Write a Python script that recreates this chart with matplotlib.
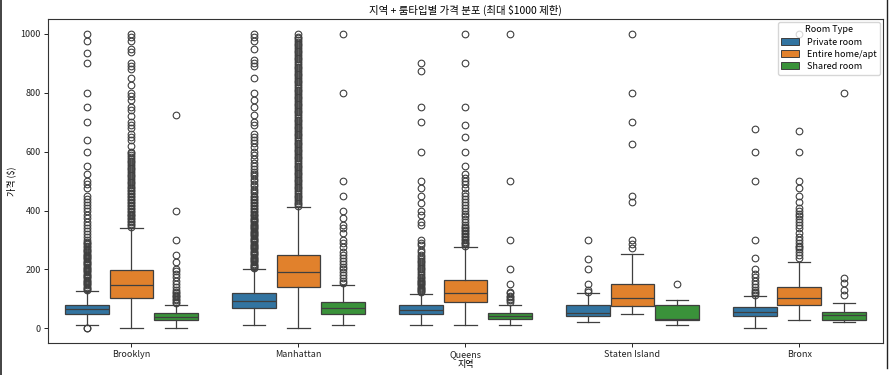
import matplotlib
matplotlib.use("Agg")
import matplotlib.pyplot as plt
from matplotlib.patches import Patch
from matplotlib.lines import Line2D

plt.rcParams['font.family'] = ['Noto Sans CJK KR', 'DejaVu Sans']

boroughs = ["Brooklyn", "Manhattan", "Queens", "Staten Island", "Bronx"]
room_types = ["Private room", "Entire home/apt", "Shared room"]
colors = ["#3274a1", "#e1812c", "#3a923a"]

# per borough: [q1, median, q3, whisker_low, whisker_high] for each room type
stats_private = [[50, 67, 81, 10, 126], [68, 93, 121, 10, 200], [48, 61, 78, 10, 118],
                 [42, 53, 78, 23, 121], [42, 57, 72, 0, 110]]
stats_entire = [[104, 147, 199, 0, 340], [141, 192, 248, 0, 412], [90, 121, 165, 10, 276],
                [77, 102, 151, 48, 251], [80, 102, 142, 28, 226]]
stats_shared = [[30, 40, 51, 0, 81], [50, 70, 90, 10, 149], [31, 41, 53, 10, 81],
                [30, 31, 78, 12, 96], [28, 44, 57, 23, 85]]

fliers_private = [
    [0, 0, 130, 134, 138, 142, 146, 150, 154, 158, 162, 166, 170, 174, 178, 182, 186, 190, 194,
     198, 202, 206, 210, 214, 218, 222, 226, 230, 234, 238, 242, 246, 250, 254, 258, 262, 266,
     270, 275, 280, 285, 290, 295, 300, 310, 320, 330, 340, 350, 360, 375, 385, 400, 410, 420,
     430, 440, 450, 475, 490, 500, 525, 550, 600, 640, 700, 750, 800, 900, 935, 975, 1000],
    [204, 208, 212, 216, 220, 224, 228, 232, 236, 240, 244, 248, 252, 256, 260, 264, 268, 272,
     276, 280, 284, 288, 292, 296, 300, 304, 308, 312, 316, 320, 324, 328, 332, 336, 340, 344,
     348, 352, 356, 360, 364, 368, 372, 376, 380, 385, 390, 395, 400, 405, 410, 415, 420, 425,
     430, 435, 440, 445, 450, 458, 466, 474, 482, 490, 500, 508, 516, 524, 532, 540, 550, 560,
     575, 590, 600, 615, 630, 640, 650, 660, 690, 700, 725, 750, 775, 800, 850, 890, 900, 910,
     950, 975, 990, 1000],
    [122, 126, 130, 134, 138, 142, 146, 150, 154, 158, 162, 166, 170, 176, 182, 188, 194, 200,
     206, 212, 218, 224, 230, 236, 242, 250, 258, 265, 282, 290, 300, 350, 360, 385, 400, 425,
     450, 475, 500, 600, 700, 750, 875, 900],
    [125, 132, 150, 200, 234, 300],
    [115, 120, 125, 130, 140, 150, 160, 175, 185, 200, 240, 300, 500, 600, 678],
]
fliers_entire = [
    [345, 350, 355, 360, 365, 370, 375, 380, 385, 390, 395, 400, 405, 410, 415, 420, 425, 430,
     435, 440, 445, 450, 455, 460, 465, 470, 475, 480, 486, 492, 498, 504, 510, 516, 522, 528,
     534, 540, 546, 552, 558, 564, 570, 576, 582, 588, 594, 600, 620, 640, 650, 660, 680, 690,
     700, 720, 740, 750, 775, 790, 800, 825, 850, 880, 890, 900, 940, 950, 975, 990, 1000],
    [415, 421, 427, 433, 439, 445, 451, 457, 463, 469, 475, 481, 487, 493, 499, 505, 511, 517,
     523, 529, 535, 541, 547, 553, 559, 565, 571, 577, 583, 589, 595, 601, 607, 613, 619, 625,
     631, 637, 643, 649, 655, 661, 667, 673, 679, 685, 691, 697, 703, 709, 715, 721, 727, 733,
     739, 745, 751, 757, 763, 769, 775, 781, 787, 793, 799, 805, 811, 817, 823, 829, 835, 841,
     847, 853, 859, 865, 871, 877, 883, 889, 895, 901, 907, 913, 919, 925, 931, 937, 943, 949,
     955, 961, 967, 973, 979, 985, 991, 1000],
    [280, 285, 290, 295, 300, 305, 310, 315, 320, 325, 330, 335, 340, 345, 350, 360, 370, 380,
     390, 400, 410, 420, 430, 440, 450, 460, 475, 490, 500, 510, 525, 550, 600, 650, 690, 750,
     900, 1000],
    [273, 287, 299, 430, 451, 625, 700, 800, 1000],
    [240, 250, 260, 270, 275, 280, 290, 300, 310, 325, 340, 350, 360, 370, 380, 390, 400, 410,
     430, 450, 475, 500, 600, 670, 1000],
]
fliers_shared = [
    [85, 90, 95, 100, 105, 110, 115, 120, 125, 130, 140, 150, 160, 175, 185, 195, 200, 225, 250,
     300, 400, 725],
    [155, 160, 170, 180, 190, 200, 210, 220, 230, 240, 250, 260, 275, 290, 300, 325, 340, 350,
     375, 400, 450, 500, 800, 1000],
    [90, 95, 100, 105, 110, 120, 125, 150, 200, 300, 500, 1000],
    [150],
    [112, 132, 153, 172, 800],
]

all_stats = [stats_private, stats_entire, stats_shared]
all_fliers = [fliers_private, fliers_entire, fliers_shared]

fig = plt.figure(figsize=(8.89, 3.75), dpi=100)
ax = fig.add_axes([0.054, 0.085, 0.939, 0.864])

line_c = "#3f3f3f"
lw = 0.9
nh = len(room_types)
width = 0.8 / nh
for h in range(nh):
    bstats = []
    positions = []
    for i in range(len(boroughs)):
        q1, med, q3, lo, hi = all_stats[h][i]
        bstats.append(dict(q1=q1, med=med, q3=q3, whislo=lo, whishi=hi,
                           fliers=all_fliers[h][i]))
        positions.append(i - 0.4 + width * (h + 0.5))
    ax.bxp(bstats, positions=positions, widths=width * 0.98, capwidths=width / 2,
           patch_artist=True, showfliers=True,
           boxprops=dict(facecolor=colors[h], edgecolor=line_c, linewidth=lw),
           medianprops=dict(color=line_c, linewidth=lw),
           whiskerprops=dict(color=line_c, linewidth=lw),
           capprops=dict(color=line_c, linewidth=lw),
           flierprops=dict(marker='o', markerfacecolor='none', markeredgecolor=line_c,
                           markersize=4.8, markeredgewidth=0.8, linestyle='none'),
           manage_ticks=False)

ax.set_xlim(-0.5, len(boroughs) - 0.5)
ax.set_ylim(-50, 1050)
ax.set_xticks(range(len(boroughs)))
ax.set_xticklabels(boroughs)
ax.set_yticks([0, 200, 400, 600, 800, 1000])
ax.tick_params(labelsize=6.5, length=3, width=0.7, pad=2, colors="#222222")
for s in ax.spines.values():
    s.set_linewidth(0.8)
    s.set_color("#333333")

ax.set_title("지역 + 룸타입별 가격 분포 (최대 $1000 제한)", fontsize=7.5, pad=4)
ax.set_xlabel("지역", fontsize=6.5, labelpad=1)
ax.set_ylabel("가격 ($)", fontsize=6.5, labelpad=3)

handles = [Patch(facecolor=colors[h], edgecolor=line_c, linewidth=0.7, label=room_types[h])
           for h in range(nh)]
leg = ax.legend(handles=handles, title="Room Type", loc="upper right", fontsize=6.5,
                title_fontsize=6.5, borderaxespad=0.3, handlelength=2.0, handleheight=0.8,
                labelspacing=0.35, framealpha=0.8)

fig.add_artist(Line2D([0.6 / 889, 0.6 / 889], [0, 1], transform=fig.transFigure,
                      color="#222222", linewidth=1.2))
fig.add_artist(Line2D([886.5 / 889, 886.5 / 889], [0.02, 1], transform=fig.transFigure,
                      color="#222222", linewidth=1.0))

fig.savefig("out.png", dpi=100)
